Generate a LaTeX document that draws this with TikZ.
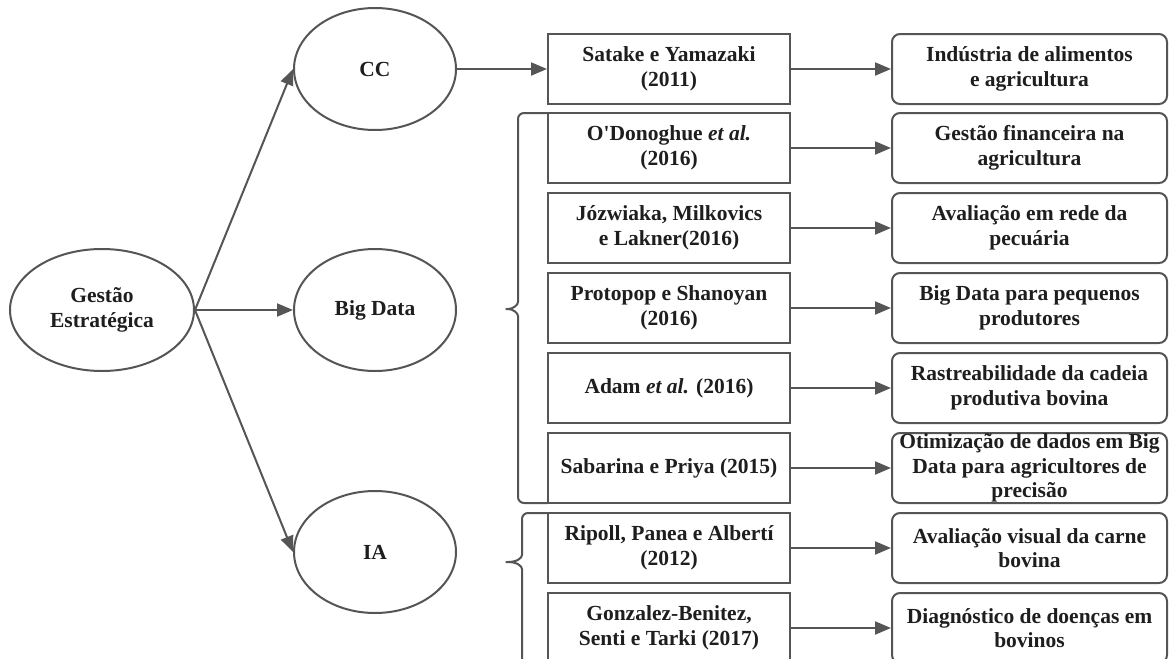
\documentclass[tikz,border=0pt]{standalone}
\usepackage{fontspec}
\setmainfont{Liberation Serif}
\usetikzlibrary{arrows.meta,shapes.geometric}
\definecolor{lineg}{HTML}{555555}
\definecolor{txt}{HTML}{1E1E1E}
\tikzset{
  base/.style={draw=lineg, line width=2pt, text=txt, align=center, inner sep=0pt,
    font=\bfseries\fontsize{21.5}{24.5}\selectfont},
  oval/.style={base, ellipse, minimum width=162pt, minimum height=122pt},
  refbox/.style={base, rectangle, minimum width=242pt, minimum height=70pt},
  topicbox/.style={base, rectangle, rounded corners=8pt, minimum width=275pt, minimum height=70pt},
  conn/.style={draw=lineg, line width=2pt, -{Triangle[length=16pt,width=13pt]}},
  bracepath/.style={draw=lineg, line width=2pt, rounded corners=6pt},
}
\begin{document}
\begin{tikzpicture}[x=1pt,y=-1pt]
\path[use as bounding box, clip] (0,0) rectangle (1171,659);
\fill[white] (0,0) rectangle (1171,659);

% ellipses
\node[oval, minimum width=184pt] (g) at (102,310) {Gestão\\Estratégica};
\node[oval] (cc) at (375,69) {CC};
\node[oval] (bd) at (375,310) {Big Data};
\node[oval] (ia) at (375,552) {IA};

% middle reference boxes
\node[refbox] (r1) at (669,69) {Satake e Yamazaki\\(2011)};
\node[refbox] (r2) at (669,148) {O\textquotesingle Donoghue \textit{et al.}\\(2016)};
\node[refbox] (r3) at (669,228) {Józwiaka, Milkovics\\e Lakner(2016)};
\node[refbox] (r4) at (669,308) {Protopop e Shanoyan\\(2016)};
\node[refbox] (r5) at (669,388) {Adam \textit{et al.} (2016)};
\node[refbox] (r6) at (669,468) {Sabarina e Priya (2015)};
\node[refbox] (r7) at (669,548) {Ripoll, Panea e Albertí\\(2012)};
\node[refbox] (r8) at (669,628) {Gonzalez-Benitez,\\Senti e Tarki (2017)};

% right topic boxes
\node[topicbox] (t1) at (1029.5,69) {Indústria de alimentos\\e agricultura};
\node[topicbox] (t2) at (1029.5,148) {Gestão financeira na\\agricultura};
\node[topicbox] (t3) at (1029.5,228) {Avaliação em rede da\\pecuária};
\node[topicbox] (t4) at (1029.5,308) {Big Data para pequenos\\produtores};
\node[topicbox] (t5) at (1029.5,388) {Rastreabilidade da cadeia\\produtiva bovina};
\node[topicbox] (t6) at (1029.5,468) {Otimização de dados em Big\\Data para agricultores de\\precisão};
\node[topicbox] (t7) at (1029.5,548) {Avaliação visual da carne\\bovina};
\node[topicbox] (t8) at (1029.5,628) {Diagnóstico de doenças em\\bovinos};

% connectors
\draw[conn] (g.east) -- (cc.west);
\draw[conn] (g.east) -- (bd.west);
\draw[conn] (g.east) -- (ia.west);
\draw[conn] (cc.east) -- (r1.west);
\foreach \i in {1,...,8} {\draw[conn] (r\i.east) -- (t\i.west);}

% braces
\coordinate (b1top) at (548,113);
\coordinate (b1bot) at (548,503);
\coordinate (b1tip) at (502,309);
\draw[bracepath] (b1top) -- (518,113) -- (518,296)
  .. controls (518,305) and (513,309) .. (b1tip)
  .. controls (513,309) and (518,313) .. (518,322) -- (518,503) -- (b1bot);

\coordinate (b2top) at (548,513);
\coordinate (b2bot) at (548,664);
\coordinate (b2tip) at (502,562);
\draw[bracepath] (b2top) -- (522,513) -- (522,549)
  .. controls (522,558) and (517,562) .. (b2tip)
  .. controls (517,562) and (522,566) .. (522,575) -- (522,664) -- (b2bot);
\end{tikzpicture}
\end{document}
